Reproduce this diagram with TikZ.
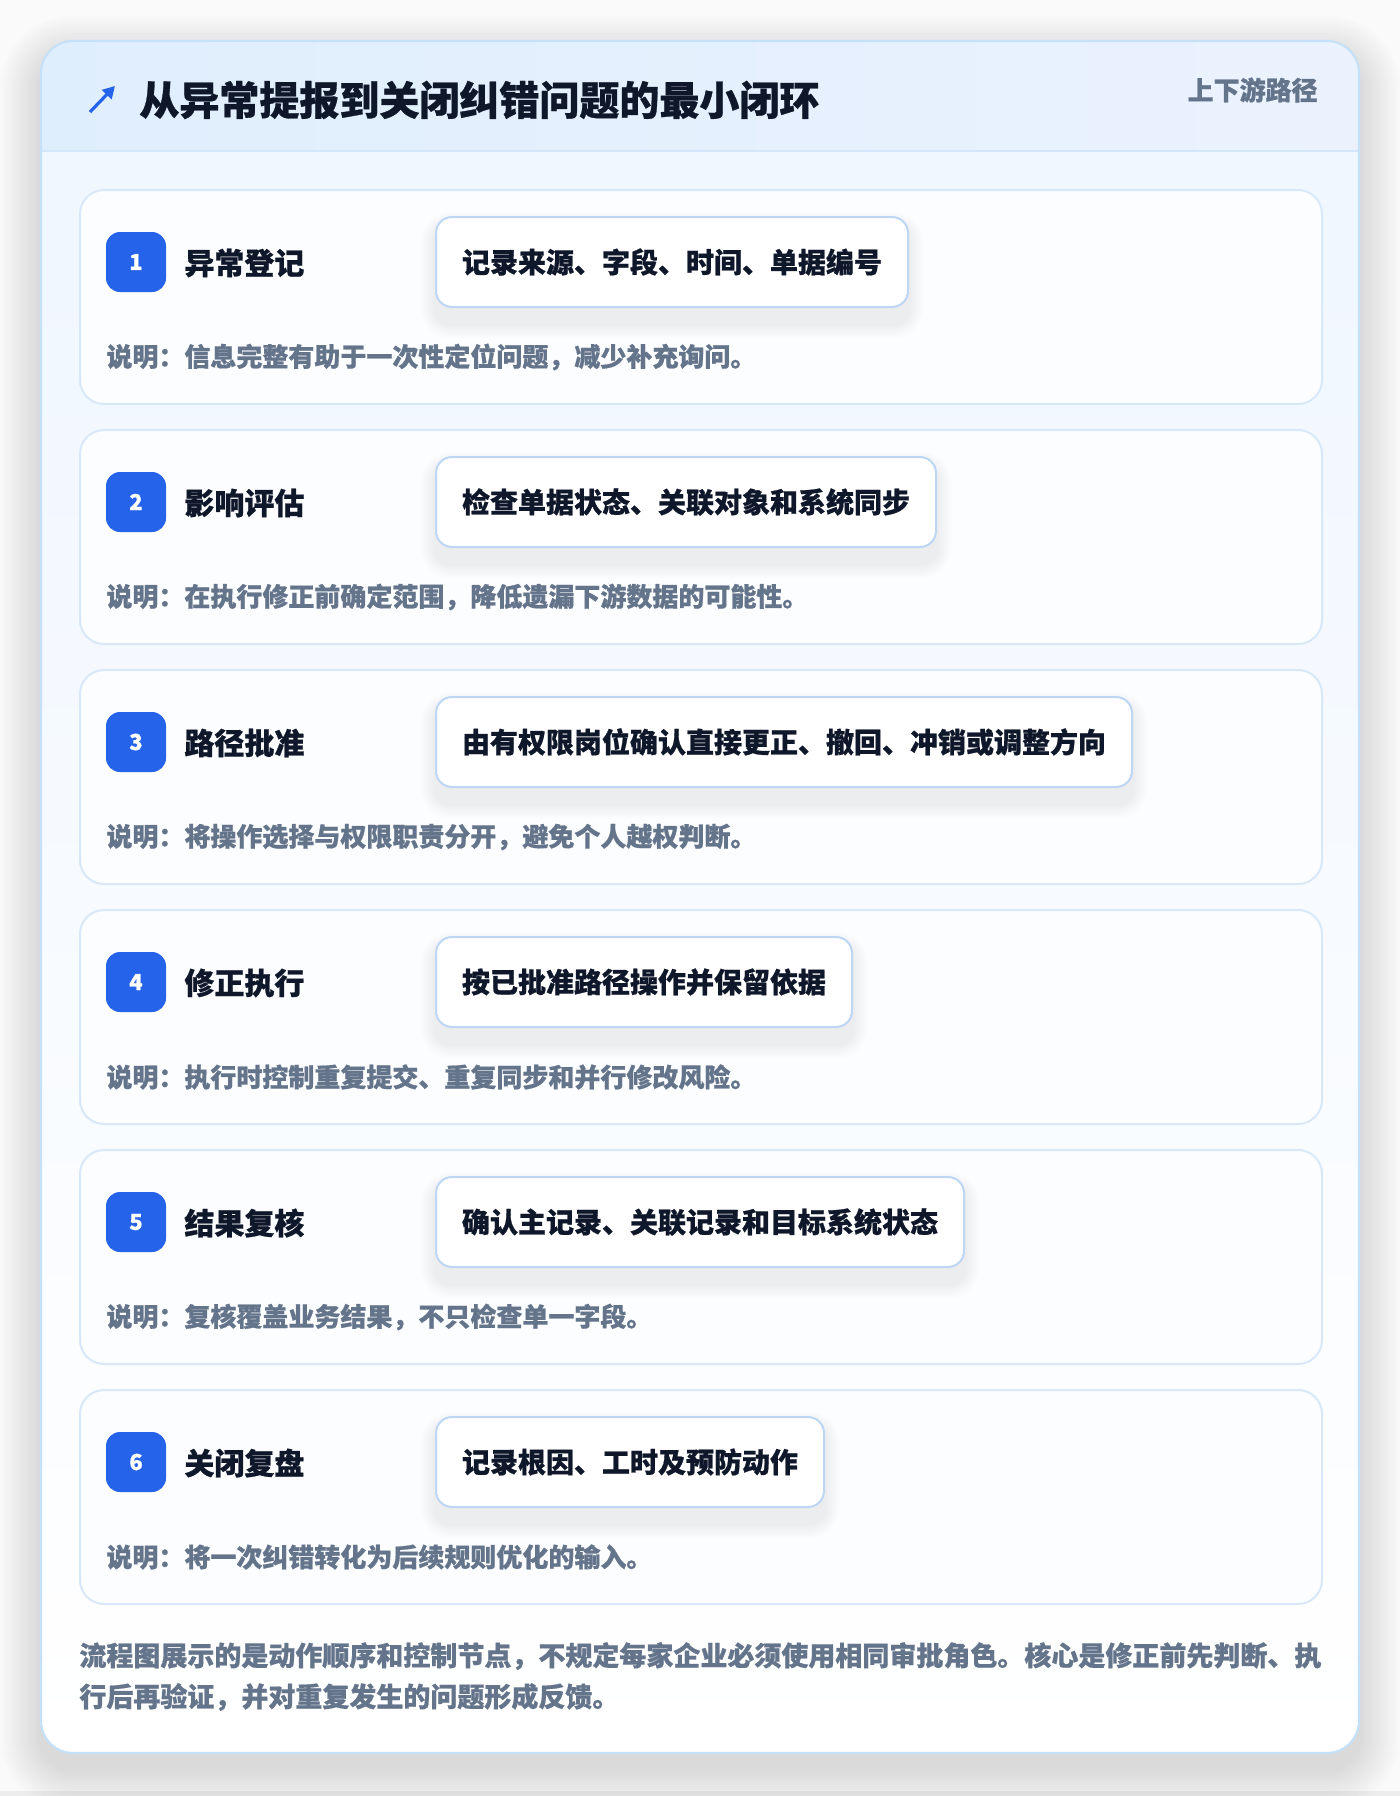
\documentclass[tikz,border=0pt]{standalone}
\usepackage{fontspec}
\setmainfont{Noto Sans CJK SC}[BoldFeatures={FakeBold=0.7}]
\usetikzlibrary{arrows.meta}
\definecolor{pagebg}{HTML}{FAFAFB}
\definecolor{cardborder}{HTML}{C5E1F8}
\definecolor{hdrL}{HTML}{DFEEFD}
\definecolor{hdrR}{HTML}{EBF2FE}
\definecolor{hdrline}{HTML}{D3E6FA}
\definecolor{bodytop}{HTML}{EFF6FF}
\definecolor{stepborder}{HTML}{D8E8F8}
\definecolor{stepfill}{HTML}{FCFDFF}
\definecolor{boxborder}{HTML}{BCD6F4}
\definecolor{accent}{HTML}{2563EB}
\definecolor{ink}{HTML}{0F172A}
\definecolor{muted}{HTML}{64748B}
\definecolor{shadowc}{HTML}{1E2A3A}
\tikzset{
  stepcard/.style={draw=stepborder, line width=1pt, fill=stepfill, rounded corners=12pt,
    minimum width=621pt, minimum height=107pt, anchor=north west, inner sep=0pt},
  badge/.style={fill=accent, text=white, rounded corners=7pt, minimum size=30pt, inner sep=0pt,
    font=\fontsize{11pt}{13pt}\selectfont\bfseries},
  steptitle/.style={anchor=west, inner sep=0pt, text=ink, font=\fontsize{15pt}{18pt}\selectfont\bfseries},
  actbox/.style={anchor=west, draw=boxborder, line width=1pt, fill=white, rounded corners=8pt,
    inner xsep=13pt, inner ysep=0pt, minimum height=45pt, text=ink,
    font=\fontsize{14pt}{17pt}\selectfont\bfseries},
  desc/.style={anchor=west, inner sep=0pt, text=muted, font=\fontsize{13pt}{16pt}\selectfont\bfseries},
  foot/.style={anchor=west, inner sep=0pt, text=muted, font=\fontsize{13.5pt}{16pt}\selectfont\bfseries},
}
\begin{document}
\begin{tikzpicture}[x=0.5pt,y=-0.5pt]
\useasboundingbox (0,0) rectangle (1400,1796);
\fill[pagebg] (0,0) rectangle (1400,1796);
\fill[black!7] (0,1791) rectangle (1400,1796);
% outer card soft shadow
\foreach \i in {1,...,16}{
  \pgfmathsetmacro{\e}{2.6*\i}
  \pgfmathsetmacro{\r}{16+1.3*\i}
  \fill[shadowc, opacity=0.006, rounded corners=\r pt]
    (41-\e,41+16-\e) rectangle (1359+\e,1753+16+\e);
}
\fill[white, rounded corners=16pt] (41,41) rectangle (1359,1753);
\shade[top color=bodytop, bottom color=white, rounded corners=16pt] (41,41) rectangle (1359,1753);
\begin{scope}
  \clip[rounded corners=16pt] (41,41) rectangle (1359,1753);
  \shade[left color=hdrL, right color=hdrR] (41,41) rectangle (1359,151);
\end{scope}
\draw[hdrline, line width=1pt] (41,151) -- (1359,151);
\draw[cardborder, line width=1.1pt, rounded corners=16pt] (41,41) rectangle (1359,1753);
% header
\coordinate (iconA) at (90,112);
\coordinate (iconB) at (115,86);
\draw[accent, line width=1.6pt, -{Triangle[length=6pt,width=6.5pt]}] (iconA) -- (iconB);
\node[anchor=west, inner sep=0pt, text=ink, font=\fontsize{20pt}{24pt}\selectfont\bfseries] (title) at (139,100) {从异常提报到关闭纠错问题的最小闭环};
\node[anchor=east, inner sep=0pt, text=muted, font=\fontsize{13pt}{16pt}\selectfont\bfseries] (tag) at (1318,90) {上下游路径};
% steps
\foreach \k/\ttl/\act/\dsc in {
  1/异常登记/记录来源、字段、时间、单据编号/说明：信息完整有助于一次性定位问题，减少补充询问。,
  2/影响评估/检查单据状态、关联对象和系统同步/说明：在执行修正前确定范围，降低遗漏下游数据的可能性。,
  3/路径批准/由有权限岗位确认直接更正、撤回、冲销或调整方向/说明：将操作选择与权限职责分开，避免个人越权判断。,
  4/修正执行/按已批准路径操作并保留依据/说明：执行时控制重复提交、重复同步和并行修改风险。,
  5/结果复核/确认主记录、关联记录和目标系统状态/说明：复核覆盖业务结果，不只检查单一字段。,
  6/关闭复盘/记录根因、工时及预防动作/说明：将一次纠错转化为后续规则优化的输入。}{
  \pgfmathsetmacro{\yy}{189+240*(\k-1)}
  \node[stepcard] (card\k) at (79,\yy) {};
  \node[badge] (badge\k) at (136,\yy+73) {\k};
  \node[steptitle] (title\k) at (184,\yy+74) {\ttl};
  \node[actbox, opacity=0, text opacity=0] (ghost\k) at (435,\yy+73) {\act};
  \foreach \j in {1,...,8}{
    \pgfmathsetmacro{\e}{1.8*\j}
    \fill[shadowc, opacity=0.007, rounded corners=8pt+\e*0.5pt]
      ([xshift=-\e*0.5pt, yshift=-5pt+\e*0.5pt]ghost\k.north west) rectangle
      ([xshift=\e*0.5pt, yshift=-8pt-\e*0.5pt]ghost\k.south east);
  }
  \node[actbox] (act\k) at (435,\yy+73) {\act};
  \node[desc] (desc\k) at (106,\yy+168) {\dsc};
}
% footer
\node[foot] (foot1) at (79,1656) {流程图展示的是动作顺序和控制节点，不规定每家企业必须使用相同审批角色。核心是修正前先判断、执};
\node[foot] (foot2) at (79,1697) {行后再验证，并对重复发生的问题形成反馈。};
\end{tikzpicture}
\end{document}
